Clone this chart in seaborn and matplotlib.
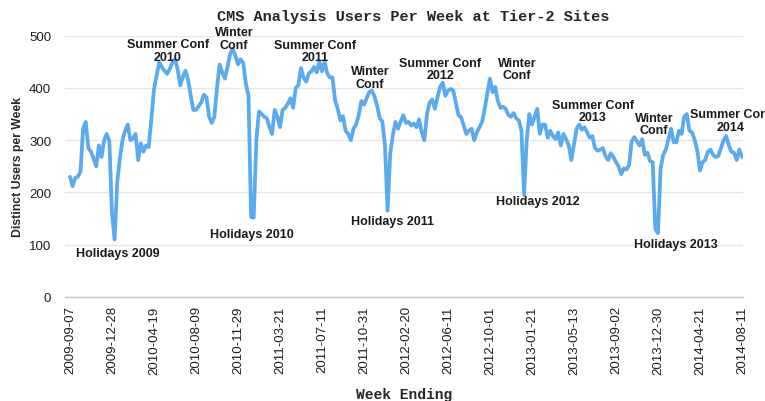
import numpy as np
import pandas as pd
import seaborn as sns
import matplotlib.pyplot as plt

# x tick labels, one every 16 weeks (category axis)
tick_labels = [
    "2009-09-07", "2009-12-28", "2010-04-19", "2010-08-09", "2010-11-29",
    "2011-03-21", "2011-07-11", "2011-10-31", "2012-02-20", "2012-06-11",
    "2012-10-01", "2013-01-21", "2013-05-13", "2013-09-02", "2013-12-30",
    "2014-04-21", "2014-08-11",
]
tick_step = 16

# distinct users per week (16 weeks per row)
users = [
    230, 212, 228, 230, 240, 322, 335, 285, 278, 265, 250, 290, 268, 300, 312, 298,
    160, 110, 220, 265, 300, 318, 330, 300, 303, 312, 262, 294, 278, 290, 287, 341,
    398, 424, 449, 440, 433, 427, 436, 449, 455, 436, 405, 421, 433, 415, 385, 358,
    358, 365, 372, 387, 382, 345, 333, 345, 400, 445, 430, 418, 440, 465, 475, 462,
    445, 455, 448, 408, 385, 153, 152, 300, 355, 350, 345, 342, 325, 312, 358, 345,
    325, 358, 362, 370, 380, 362, 400, 405, 438, 420, 412, 428, 432, 440, 430, 450,
    432, 450, 428, 420, 420, 376, 360, 338, 346, 318, 312, 300, 322, 330, 348, 375,
    368, 380, 392, 395, 384, 366, 342, 336, 290, 165, 275, 310, 335, 322, 336, 348,
    333, 335, 328, 332, 325, 340, 315, 300, 350, 372, 378, 360, 382, 402, 410, 385,
    395, 398, 395, 372, 348, 344, 328, 312, 318, 322, 300, 315, 325, 335, 360, 390,
    418, 392, 402, 375, 362, 364, 360, 348, 345, 352, 342, 338, 318, 195, 300, 350,
    330, 345, 360, 312, 330, 330, 305, 318, 308, 302, 315, 290, 312, 302, 290, 262,
    292, 322, 330, 320, 325, 315, 305, 308, 285, 280, 282, 285, 270, 262, 275, 268,
    258, 250, 235, 246, 244, 252, 298, 306, 298, 290, 302, 272, 276, 260, 258, 130,
    122, 245, 272, 282, 302, 322, 296, 296, 318, 312, 345, 350, 318, 315, 300, 280,
    242, 258, 262, 278, 282, 272, 268, 270, 285, 300, 308, 290, 278, 276, 262, 282,
    268,
]

# event labels: text, week index, y (data units)
notes = [
    ("Holidays 2009", 18.3, 84),
    ("Summer Conf\n2010", 37.3, 472),
    ("Winter\nConf", 62.5, 495),
    ("Holidays 2010", 69.3, 120),
    ("Summer Conf\n2011", 93.3, 471),
    ("Winter\nConf", 114.3, 420),
    ("Holidays 2011", 122.7, 145),
    ("Summer Conf\n2012", 141.0, 436),
    ("Winter\nConf", 170.3, 436),
    ("Holidays 2012", 178.3, 183),
    ("Summer Conf\n2013", 199.2, 356),
    ("Winter\nConf", 222.5, 331),
    ("Holidays 2013", 230.9, 101),
    ("Summer Conf\n2014", 251.8, 338),
]

df = pd.DataFrame({"week": np.arange(len(users)), "users": users})

sns.set_style("whitegrid", {"grid.color": "#e6e6e6", "axes.edgecolor": "#c4c4c4"})
plt.rcParams["font.family"] = ["Liberation Sans", "DejaVu Sans"]

W, H = 765, 402
fig = plt.figure(figsize=(W / 100, H / 100), dpi=100)
ax = fig.add_axes([65 / W, 1 - 298 / H, (743 - 65) / W, (298 - 36.7) / H])

sns.lineplot(data=df, x="week", y="users", ax=ax, color="#5aaaf0", linewidth=2.7)

ax.set_xlim(-1.9, 256.4)
ax.set_ylim(0, 500)
ax.set_yticks([0, 100, 200, 300, 400, 500])
ax.set_xticks(np.arange(len(tick_labels)) * tick_step)
ax.set_xticklabels(tick_labels, rotation=90, fontsize=9.5, color="#1e1e1e")
ax.tick_params(axis="y", labelsize=9.5, colors="#1e1e1e", length=0, pad=10)
ax.tick_params(axis="x", length=0, pad=6)
ax.grid(axis="x", visible=False)
ax.grid(axis="y", linewidth=1.0)
for side in ["left", "right", "top"]:
    ax.spines[side].set_visible(False)
ax.spines["bottom"].set_linewidth(1.0)
ax.set_xlabel("")
ax.set_ylabel("")

for text, wk, val in notes:
    ax.text(wk, val, text, ha="center", va="center", fontsize=9,
            fontweight="bold", color="#1a1a1a", linespacing=1.05)

fig.text(413 / W, 1 - 17 / H, "CMS Analysis Users Per Week at Tier-2 Sites",
         ha="center", va="center", fontsize=11, fontweight="bold",
         family="Liberation Mono")
fig.text(404 / W, 1 - 395 / H, "Week Ending", ha="center", va="center",
         fontsize=10.5, fontweight="bold", family="Liberation Mono")
fig.text(18 / W, 1 - 167 / H, "Distinct Users per Week", ha="center", va="center",
         rotation=90, fontsize=8.8, fontweight="bold")

fig.savefig("out.png", dpi=100)
